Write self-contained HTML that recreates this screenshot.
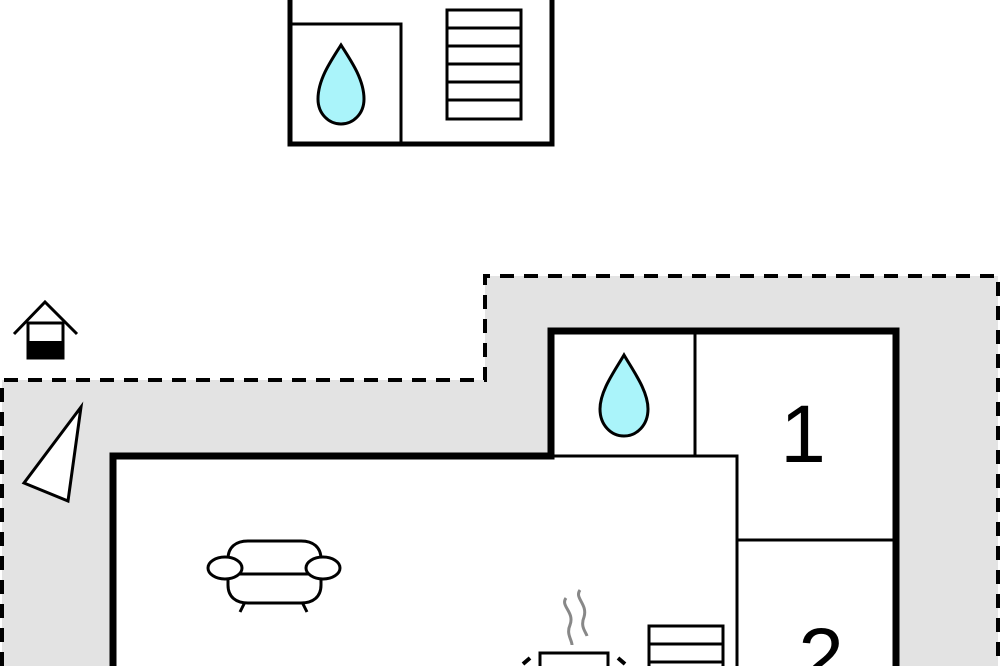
<!DOCTYPE html>
<html><head><style>html,body{margin:0;padding:0;background:#fff;overflow:hidden}</style></head>
<body>
<svg width="1000" height="666" viewBox="0 0 1000 666" xmlns="http://www.w3.org/2000/svg">
<!-- top building -->
<rect x="290" y="-10" width="262" height="154" fill="#fff" stroke="#000" stroke-width="5"/>
<path d="M290 24 H401 V144" fill="none" stroke="#000" stroke-width="3"/>
<rect x="447" y="10" width="74" height="109" fill="#fff" stroke="#000" stroke-width="3"/>
<path d="M447 28H521M447 46H521M447 64H521M447 82H521M447 100H521" stroke="#000" stroke-width="3"/>
<path d="M341 45 C330 62 318 80 318 99 C318 114 329 124 341 124 C353 124 364 114 364 99 C364 80 352 62 341 45Z" fill="#aaf4fa" stroke="#000" stroke-width="3"/>
<!-- yard -->
<path d="M2 380 H485 V276 H998 V666 H2 Z" fill="#e3e3e3"/>
<path d="M2 666 V380 H485 V276 H998 V666" fill="none" stroke="#000" stroke-width="4" stroke-dasharray="14 10"/>
<!-- house icon -->
<path d="M14 334 L45 302 L77 334" fill="none" stroke="#000" stroke-width="3"/>
<rect x="28" y="323" width="35" height="35" fill="#fff" stroke="#000" stroke-width="3"/>
<rect x="27" y="341" width="37" height="18" fill="#000"/>
<!-- triangle -->
<path d="M81 407 L68 501 L24 483 Z" fill="#fff" stroke="#000" stroke-width="3"/>
<!-- building -->
<path d="M113 666 V456 H551 V331 H896 V666 Z" fill="#fff"/>
<path d="M113 666 V456 H551 V331 H896 V666" fill="none" stroke="#000" stroke-width="7"/>
<path d="M551 456 H737 V666 M695 331 V456 M737 540 H896" fill="none" stroke="#000" stroke-width="3"/>
<path d="M624 355 C614 372 600 391 600 409 C600 425 611 436 624 436 C637 436 648 425 648 409 C648 391 634 372 624 355Z" fill="#aaf4fa" stroke="#000" stroke-width="3"/>
<text x="803" y="462" font-family="Liberation Sans, sans-serif" font-size="82" text-anchor="middle">1</text>
<text x="821" y="685" font-family="Liberation Sans, sans-serif" font-size="82" text-anchor="middle">2</text>
<!-- sofa -->
<g fill="#fff" stroke="#000" stroke-width="3">
<path d="M228 559 C228 547 236 541 248 541 H301 C313 541 321 547 321 559 V585 C321 597 313 603 301 603 H248 C236 603 228 597 228 585 Z"/>
<path d="M228 574 H321" fill="none"/>
<ellipse cx="225" cy="568" rx="17" ry="11"/>
<ellipse cx="323" cy="568" rx="17" ry="11"/>
<path d="M245 602 L240 612 M302 602 L307 612" fill="none"/>
</g>
<!-- kitchen -->
<path d="M566 598 C560 606 575 612 570 625 C566 634 572 640 572 645 M580 590 C574 598 588 604 584 617 C580 627 586 632 587 636" fill="none" stroke="#888" stroke-width="3"/>
<rect x="540" y="653" width="68" height="20" fill="#fff" stroke="#000" stroke-width="3"/>
<path d="M523 664 L530 658 M618 658 L625 664" stroke="#000" stroke-width="4"/>
<rect x="649" y="626" width="74" height="50" fill="#fff" stroke="#000" stroke-width="3"/>
<path d="M649 644H723M649 662H723" stroke="#000" stroke-width="3"/>
</svg>
</body></html>
